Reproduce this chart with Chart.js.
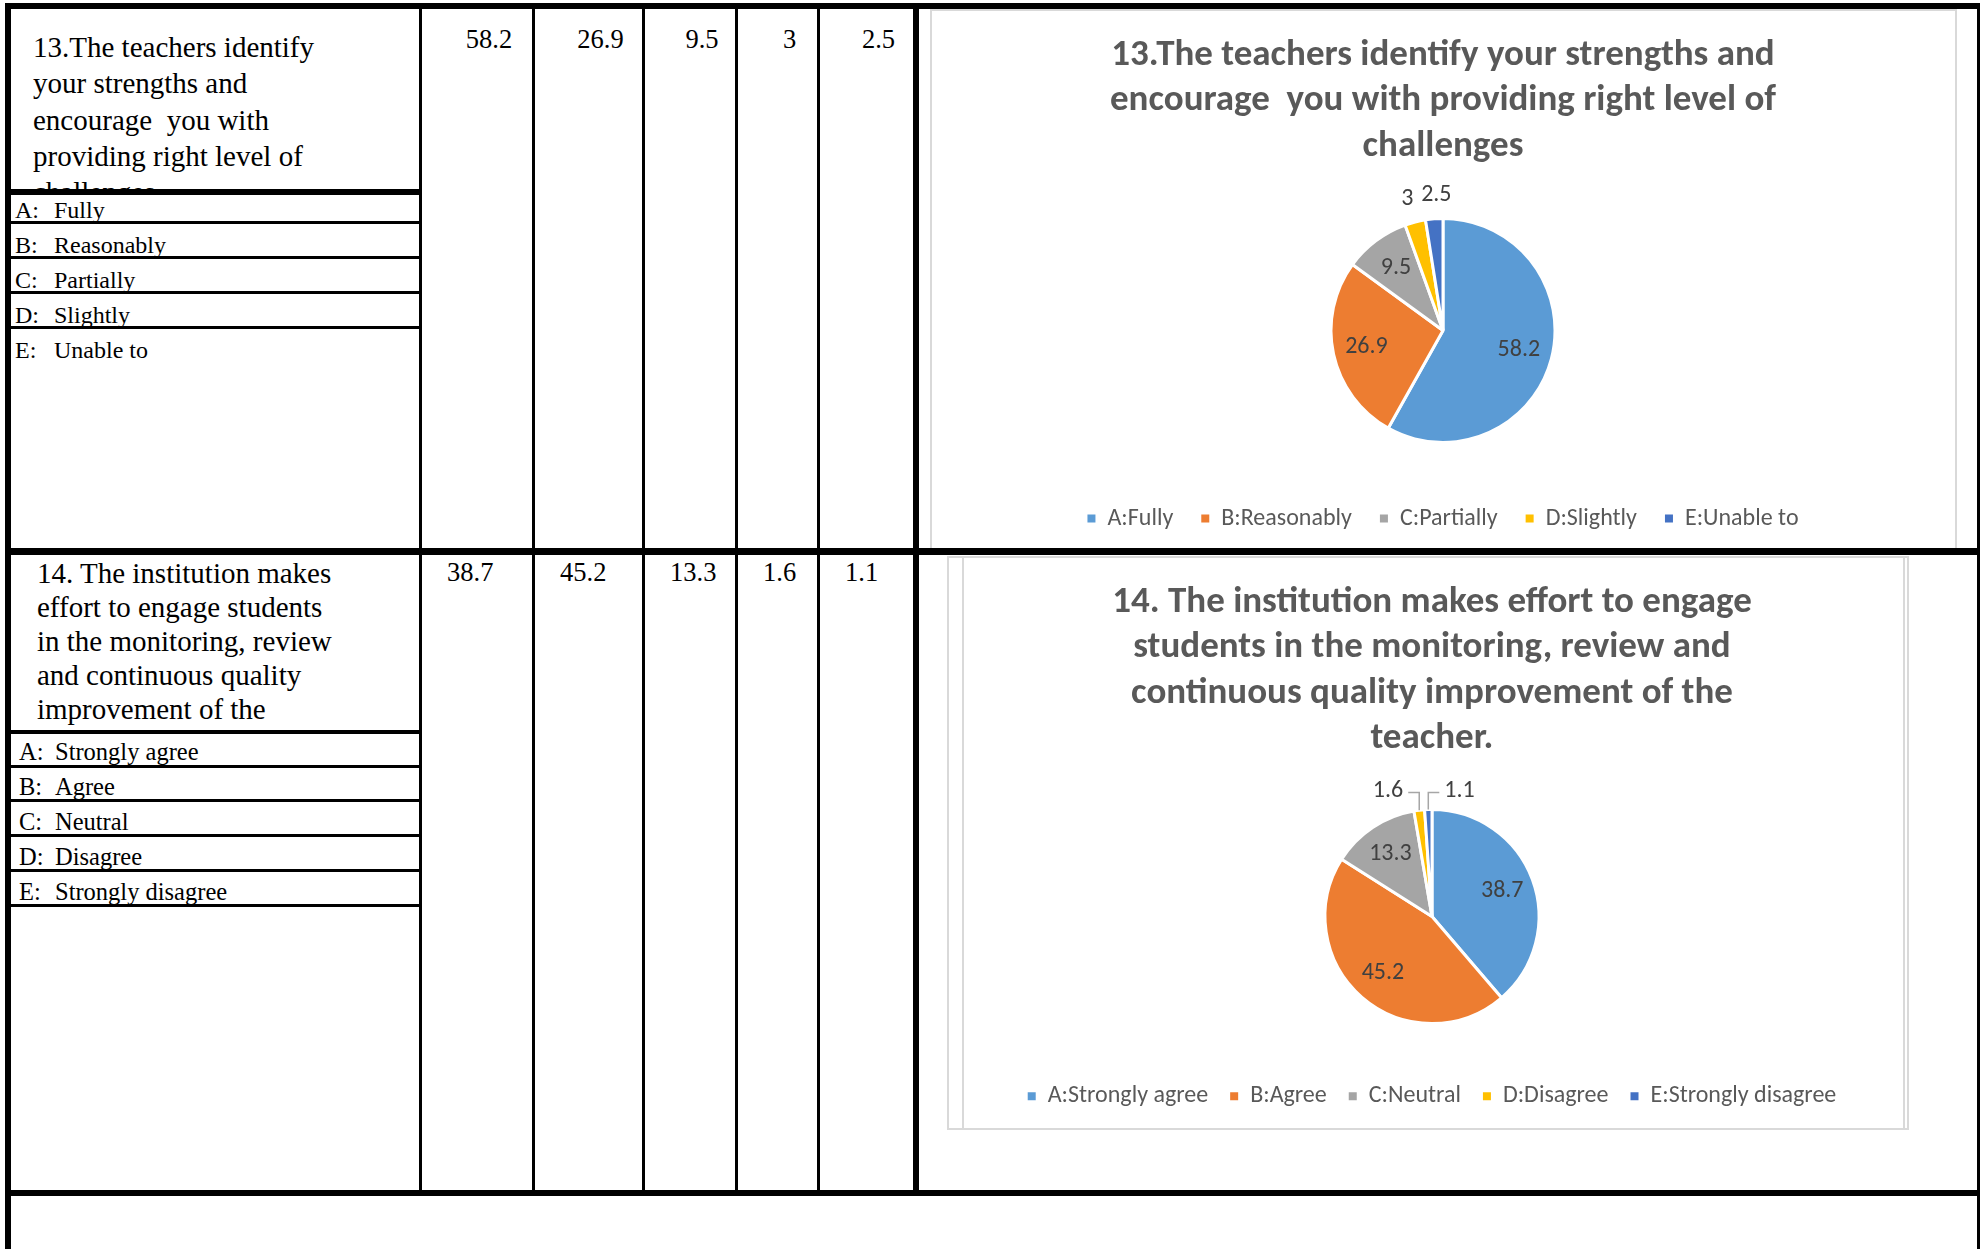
<!DOCTYPE html>
<html>
<head>
<meta charset="utf-8">
<title>Student survey – questions 13 and 14</title>
<script src="https://cdn.jsdelivr.net/npm/chart.js@4.4.1/dist/chart.umd.min.js"></script>
<style>
    html, body { margin: 0; padding: 0; background: #fff; }
    #page { position: relative; width: 1980px; height: 1249px; overflow: hidden; }
    .rule { position: absolute; background: #000; }
    .frame { position: absolute; border: 2px solid #d9d9d9; box-sizing: border-box; }
    .t { position: absolute; font-family: "Liberation Serif", "Times New Roman", serif; color: #000; line-height: normal; white-space: pre; }
    .clip { position: absolute; overflow: hidden; }
    canvas { position: absolute; }
</style>
</head>
<body>
<div id="page">
    <div class="frame" style="left:930px; top:9px; width:1027px; height:545px;"></div>
    <div class="frame" style="left:947px; top:556px; width:962px; height:574px;"></div>
    <div class="frame" style="left:962px; top:556px; width:943px; height:574px;"></div>
    <canvas id="chart13" width="1026" height="534" style="left:930px; top:12px;"></canvas>
    <canvas id="chart14" width="940" height="568" style="left:962px; top:558px;"></canvas>
</div>

<script>
// question 13
const q13Question = ['13.The teachers identify', 'your strengths and', 'encourage  you with', 'providing right level of', 'challenges'];
const q13Title    = ['13.The teachers identify your strengths and', 'encourage  you with providing right level of', 'challenges'];
const q13Options  = ['Fully', 'Reasonably', 'Partially', 'Slightly', 'Unable to'];
const q13Values   = [58.2, 26.9, 9.5, 3, 2.5];

// question 14
const q14Question = ['14. The institution makes', 'effort to engage students', 'in the monitoring, review', 'and continuous quality', 'improvement of the', 'teacher.'];
const q14Title    = ['14. The institution makes effort to engage', 'students in the monitoring, review and', 'continuous quality improvement of the', 'teacher.'];
const q14Options  = ['Strongly agree', 'Agree', 'Neutral', 'Disagree', 'Strongly disagree'];
const q14Values   = [38.7, 45.2, 13.3, 1.6, 1.1];

const letters = ['A', 'B', 'C', 'D', 'E'];
const colors  = ['#5B9BD5', '#ED7D31', '#A5A5A5', '#FFC000', '#4472C4'];

const page = document.getElementById('page');

function rule(x, y, w, h) {
    const d = document.createElement('div');
    d.className = 'rule';
    d.style.cssText = `left:${x}px;top:${y}px;width:${w}px;height:${h}px;`;
    page.appendChild(d);
}

// text placed by its baseline (Liberation Serif ascent is 0.891em)
function text(parent, x, baseline, size, str, extra) {
    const d = document.createElement('div');
    d.className = 't';
    d.textContent = str;
    d.style.cssText = `left:${x}px;top:${baseline - 0.891 * size}px;font-size:${size}px;` + (extra || '');
    parent.appendChild(d);
    return d;
}

function clipBox(x, y, w, h) {
    const d = document.createElement('div');
    d.className = 'clip';
    d.style.cssText = `left:${x}px;top:${y}px;width:${w}px;height:${h}px;`;
    page.appendChild(d);
    return d;
}

// ---- table lines ----
rule(5, 3, 1975, 6);          // top
rule(5, 3, 6, 1246);          // left
rule(1977, 3, 3, 1246);       // right
[419, 532, 642, 735, 817].forEach(x => rule(x, 3, 3, 1193));
rule(913, 3, 6, 1193);
rule(5, 548, 1975, 7);        // between the two questions
rule(5, 1190, 1975, 6);       // bottom of question 14

rule(11, 189, 408, 6);
[221, 256, 291, 326].forEach(y => rule(11, y, 408, 3));
rule(11, 730, 408, 4);
[765, 799, 834, 869, 904].forEach(y => rule(11, y, 408, 3));

// ---- question text ----
const clip13 = clipBox(11, 12, 408, 177);
q13Question.forEach((line, i) => text(clip13, 22, 45 + i * 36.3, 29, line));

const clip14 = clipBox(11, 555, 408, 175);
q14Question.forEach((line, i) => text(clip14, 26, 28 + i * 34, 29, line));

q13Options.forEach((opt, i) => {
    const b = 218 + i * 35.2;
    text(page, 15, b, 24, letters[i] + ':');
    text(page, 54, b, 24, opt);
});
q14Options.forEach((opt, i) => {
    const b = 760 + i * 35;
    text(page, 19, b, 24.5, letters[i] + ':');
    text(page, 55, b, 24.5, opt);
});

// ---- value columns ----
const colLeft  = [422, 535, 645, 738, 820];
const colRight = [532, 642, 735, 817, 913];
q13Values.forEach((v, i) => {
    const w = colRight[i] - colLeft[i];
    text(page, colLeft[i] + 24, 48, 26.5, String(v), `width:${w - 24}px;text-align:center;`);
});
q14Values.forEach((v, i) => {
    text(page, colLeft[i] + 25, 581, 26.5, String(v));
});

// ---- pie charts ----
const FONT = 'Carlito, Calibri, Lato, sans-serif';

const sliceLabels = {
    id: 'sliceLabels',
    afterDatasetsDraw(chart, args, opts) {
        const ctx = chart.ctx;
        const meta = chart.getDatasetMeta(0);
        const values = chart.data.datasets[0].data;
        const total = values.reduce((a, b) => a + b, 0);
        ctx.save();
        ctx.font = `24px ${FONT}`;
        ctx.fillStyle = '#404040';
        ctx.textBaseline = 'middle';
        let outside = 0;
        meta.data.forEach((arc, i) => {
            const p = arc.getProps(['x', 'y', 'startAngle', 'endAngle', 'outerRadius'], true);
            const mid = (p.startAngle + p.endAngle) / 2;
            const cos = Math.cos(mid), sin = Math.sin(mid);
            const label = String(values[i]);
            if (values[i] / total >= 0.05) {
                ctx.textAlign = 'center';
                ctx.fillText(label, p.x + cos * p.outerRadius * 0.7, p.y + sin * p.outerRadius * 0.7);
                return;
            }
            if (!opts.leaders) {
                // small slices: label just outside, nudged apart so neighbours don't touch
                const nudge = outside === 0 ? -2 : 4;
                ctx.textAlign = 'center';
                ctx.fillText(label, p.x + cos * (p.outerRadius + 24) + nudge, p.y + sin * (p.outerRadius + 24));
            } else {
                const ex = p.x + cos * p.outerRadius;
                const ey = p.y + sin * p.outerRadius;
                const ly = p.y - p.outerRadius - 17;
                const side = outside % 2 === 0 ? -1 : 1;
                const lx = ex + side * 11;
                ctx.strokeStyle = '#a6a6a6';
                ctx.lineWidth = 1.5;
                ctx.beginPath();
                ctx.moveTo(ex, ey);
                ctx.lineTo(ex, ly);
                ctx.lineTo(lx, ly);
                ctx.stroke();
                ctx.textAlign = side < 0 ? 'right' : 'left';
                ctx.fillText(label, lx + side * 5, ly - 2);
            }
            outside++;
        });
        ctx.restore();
    }
};

function legendItems(chart) {
    return Chart.overrides.pie.plugins.legend.labels.generateLabels(chart)
        .map(item => Object.assign(item, { lineWidth: 0, strokeStyle: 'transparent' }));
}

function pieChart(id, labels, values, title, cfg) {
    new Chart(document.getElementById(id), {
        type: 'pie',
        data: {
            labels: labels,
            datasets: [{
                data: values,
                backgroundColor: colors,
                borderColor: '#ffffff',
                borderWidth: 3,
                radius: cfg.radius
            }]
        },
        plugins: [sliceLabels],
        options: {
            responsive: false,
            animation: false,
            layout: { padding: { bottom: cfg.padBottom } },
            plugins: {
                title: {
                    display: true,
                    text: title,
                    color: '#595959',
                    font: { family: FONT, size: 37, weight: 'bold', lineHeight: 45.5 / 37 },
                    padding: cfg.titlePad
                },
                legend: {
                    position: 'bottom',
                    labels: {
                        boxWidth: 8,
                        boxHeight: 8,
                        padding: cfg.legendPad,
                        color: '#595959',
                        font: { family: FONT, size: 24 },
                        generateLabels: legendItems
                    }
                },
                tooltip: { enabled: false },
                sliceLabels: { leaders: cfg.leaders }
            }
        }
    });
}

pieChart('chart13', letters.map((l, i) => l + ':' + q13Options[i]), q13Values, q13Title, {
    radius: 112, padBottom: 5.5, legendPad: 28, titlePad: { top: 20.5, bottom: 13.5 }, leaders: false
});
pieChart('chart14', letters.map((l, i) => l + ':' + q14Options[i]), q14Values, q14Title, {
    radius: 107, padBottom: 7.7, legendPad: 22, titlePad: { top: 21.5, bottom: 9.2 }, leaders: true
});
</script>
</body>
</html>
